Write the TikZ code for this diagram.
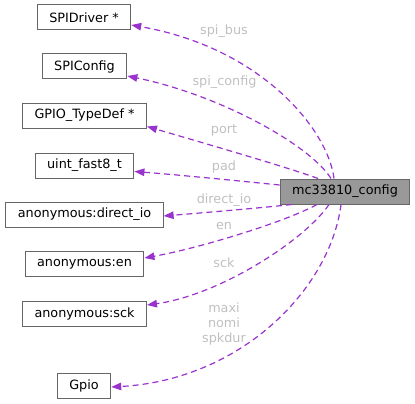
\documentclass[tikz,border=0pt]{standalone}
\usepackage{fontspec}
\setmainfont{DejaVu Sans}
\usepackage{tikz}
\definecolor{boxline}{RGB}{102, 102, 102}
\definecolor{boxfill}{RGB}{153, 153, 153}
\definecolor{orchid}{RGB}{154, 50, 205}
\definecolor{labelgray}{RGB}{192, 192, 192}
\usetikzlibrary{arrows.meta, positioning}

\begin{document}
\begin{tikzpicture}[
    x=1pt, y=-1pt,
    every node/.style={font=\fontsize{12.8}{15}\selectfont},
    member/.style={draw=boxline, line width=1pt, fill=#1, minimum height=25pt,
                   inner xsep=12pt, inner ysep=0pt, anchor=center},
    member/.default=white,
    usage/.style={draw=orchid, line width=1.2pt, dash pattern=on 6pt off 4pt,
                  -{Triangle[length=10pt, width=7.5pt, fill=orchid]}},
    field/.style={text=labelgray, align=center, inner sep=0pt}
]
    \useasboundingbox (0,0) rectangle (415,404);

    % struct and its member types
    \node[member=boxfill] (cfg) at (345,191.5) {mc33810\_config};

    \node[member] (spidrv) at (84,17.5) {SPIDriver *};
    \node[member] (spicfg) at (84.5,66.5) {SPIConfig};
    \node[member] (gpiotd) at (84.5,115.5) {GPIO\_TypeDef *};
    \node[member] (uintf) at (84.5,165.5) {uint\_fast8\_t};
    \node[member] (dirio) at (84.5,214.5) {anonymous:direct\_io};
    \node[member] (anen) at (84.5,264) {anonymous:en};
    \node[member] (ansck) at (84.5,313.5) {anonymous:sck};
    \node[member] (gpio) at (84,385.5) {Gpio};

    % member edges
    \draw[usage] ([xshift=-11pt]cfg.north) .. controls (328,130) and (262,48) .. ([yshift=-7.5pt]spidrv.east);
    \draw[usage] ([xshift=-14pt]cfg.north) .. controls (310,145) and (220,95) .. ([yshift=-9.5pt]spicfg.east);
    \draw[usage] ([xshift=-27pt]cfg.north) .. controls (290,168) and (200,142) .. ([yshift=-11pt]gpiotd.east);
    \draw[usage] ([yshift=6.5pt]cfg.west) .. controls (240,181) and (180,175) .. ([yshift=-6pt]uintf.east);
    \draw[usage] ([xshift=-53pt]cfg.south) .. controls (260,208) and (200,213) .. ([yshift=-1.5pt]dirio.east);
    \draw[usage] ([xshift=-28pt]cfg.south) .. controls (285,222) and (200,248) .. ([yshift=6pt]anen.east);
    \draw[usage] ([xshift=-16pt]cfg.south) .. controls (305,240) and (220,295) .. ([yshift=8.5pt]ansck.east);
    \draw[usage] ([xshift=-4pt]cfg.south) .. controls (330,290) and (240,380) .. ([yshift=-1.5pt]gpio.east);

    % field names
    \node[field] (lbus) at (224,31) {spi\_bus};
    \node[field] (lcfg) at (224.5,82) {spi\_config};
    \node[field] (lport) at (224,130) {port};
    \node[field] (lpad) at (224,167) {pad};
    \node[field] (ldir) at (224,200) {direct\_io};
    \node[field] (len) at (224,226) {en};
    \node[field] (lsck) at (224,263) {sck};
    \node[field] (lgpio) at (224,324) {maxi\\nomi\\spkdur};
\end{tikzpicture}
\end{document}
